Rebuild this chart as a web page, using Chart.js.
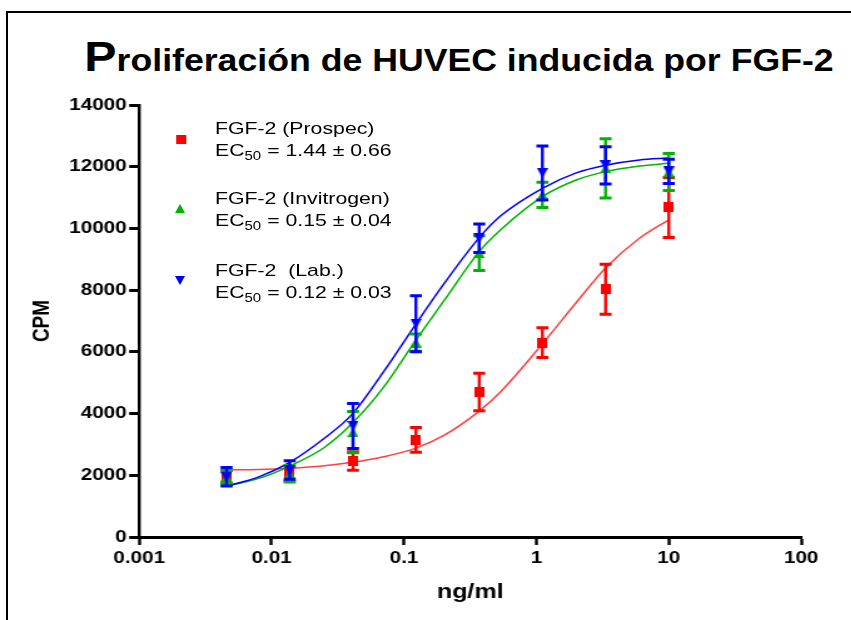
<!DOCTYPE html>
<html>
<head>
<meta charset="utf-8">
<script src="https://cdn.jsdelivr.net/npm/chart.js@4.4.0/dist/chart.umd.min.js"></script>
<style>
html, body { margin: 0; padding: 0; background: #fff; }
body { width: 851px; height: 620px; overflow: hidden; position: relative; font-family: "Liberation Sans", Arial, sans-serif; color: #000; }
#frame { position: absolute; left: 6px; top: 11px; width: 860px; height: 640px; border-top: 2px solid #000; border-left: 2px solid #000; }
/* the original picture is stretched sideways, so the chart is drawn narrow and widened */
#stage { position: absolute; left: 0; top: 0; width: 680.8px; height: 620px; transform: scaleX(1.25); transform-origin: 0 0; }
#wrap { position: absolute; left: 0; top: 0; width: 680.8px; height: 620px; }
#title { position: absolute; left: 459px; top: 35.5px; transform: translateX(-50%) scaleX(1.15); white-space: nowrap; font-weight: bold; font-size: 31px; line-height: 1; }
#title .big { font-size: 42px; }
.leg { position: absolute; left: 172px; font-size: 17px; line-height: 22px; white-space: nowrap; }
.leg sub { font-size: 12px; line-height: 0; vertical-align: -4px; }
.mk { position: absolute; width: 0; height: 0; }
</style>
</head>
<body>
<div id="frame"></div>
<div id="title"><span class="big">P</span>roliferación de HUVEC inducida por FGF-2</div>
<div id="stage">
  <div id="wrap"><canvas id="grafica"></canvas></div>

  <div class="mk" style="left:141.2px;top:134.5px;width:7.4px;height:9.4px;background:#ff0000;"></div>
  <div class="leg" style="top:118px;">FGF-2 (Prospec)<br>EC<sub>50</sub> = 1.44 ± 0.66</div>

  <div class="mk" style="left:140.4px;top:203.5px;border-left:4.4px solid transparent;border-right:4.4px solid transparent;border-bottom:9px solid #00b400;"></div>
  <div class="leg" style="top:188px;">FGF-2 (Invitrogen)<br>EC<sub>50</sub> = 0.15 ± 0.04</div>

  <div class="mk" style="left:140.4px;top:275.5px;border-left:4.4px solid transparent;border-right:4.4px solid transparent;border-top:9px solid #0000ff;"></div>
  <div class="leg" style="top:260px;">FGF-2&nbsp; (Lab.)<br>EC<sub>50</sub> = 0.12 ± 0.03</div>
</div>

<script>
// concentraciones (ng/ml) y medias +/- error de cada preparación
const concentraciones = [0.00457, 0.0137, 0.0412, 0.123, 0.370, 1.11, 3.33, 10];

const prospecMedia = [1950, 2040, 2460, 3150, 4700, 6300, 8030, 10680];
const prospecError = [200, 230, 300, 400, 610, 480, 810, 970];

const invitrogenMedia = [1950, 2050, 3400, 6300, 9200, 11090, 11950, 11830];
const invitrogenError = [220, 270, 670, 280, 565, 410, 960, 600];

const labMedia = [1950, 2170, 3600, 6910, 9680, 11800, 12045, 11850];
const labError = [300, 300, 730, 910, 460, 875, 605, 390];

// curvas de ajuste
const curvaX = [0.00457, 0.008, 0.0137, 0.025, 0.041, 0.07, 0.123, 0.2, 0.37, 0.535, 1.11, 2, 3.33, 6, 10];
const curvaProspec = [2170, 2190, 2230, 2310, 2420, 2600, 2880, 3290, 4080, 4700, 6260, 7600, 8720, 9680, 10280];
const curvaInvitrogen = [1650, 1900, 2300, 2900, 3700, 4850, 6380, 7650, 9250, 9950, 11030, 11570, 11840, 12020, 12110];
const curvaLab = [1650, 1950, 2420, 3200, 4000, 5350, 6900, 8200, 9700, 10400, 11300, 11800, 12050, 12220, 12280];

const ticksX = [0.001, 0.01, 0.1, 1, 10, 100];
const etiquetasX = ['0.001', '0.01', '0.1', '1', '10', '100'];
const ticksY = [0, 2000, 4000, 6000, 8000, 10000, 12000, 14000];
const etiquetasY = ['0', '2000', '4000', '6000', '8000', '10000', '12000', '14000'];

const ROJO = '#ff0000';
const VERDE = '#00b400';
const AZUL = '#0000ff';
const fuente = '"Liberation Sans", Arial, sans-serif';

function marcador(tipo, color) {
    const c = document.createElement('canvas');
    const g = c.getContext('2d');
    if (tipo === 'cuadro') {
        c.width = 8; c.height = 10;
        g.fillStyle = color;
        g.fillRect(0, 0, 8, 10);
    } else {
        c.width = 9; c.height = 10;
        g.fillStyle = color;
        g.beginPath();
        if (tipo === 'arriba') {
            g.moveTo(4.5, 0); g.lineTo(9, 10); g.lineTo(0, 10);
        } else {
            g.moveTo(0, 0); g.lineTo(9, 0); g.lineTo(4.5, 10);
        }
        g.closePath();
        g.fill();
    }
    return c;
}

const puntos = (ys) => concentraciones.map((x, i) => ({ x: x, y: ys[i] }));
const curva = (ys) => curvaX.map((x, i) => ({ x: x, y: ys[i] }));

const barrasError = {
    id: 'barrasError',
    beforeDatasetDraw(chart, args) {
        const ds = chart.data.datasets[args.index];
        if (!ds.errores) return;
        const ctx = chart.ctx;
        const escalaY = chart.scales.y;
        ctx.save();
        ctx.strokeStyle = ds.backgroundColor;
        args.meta.data.forEach((p, i) => {
            const v = ds.data[i].y;
            const e = ds.errores[i];
            const arriba = escalaY.getPixelForValue(v + e);
            const abajo = escalaY.getPixelForValue(v - e);
            ctx.lineWidth = 2.4;
            ctx.beginPath();
            ctx.moveTo(p.x, arriba);
            ctx.lineTo(p.x, abajo);
            ctx.stroke();
            ctx.lineWidth = 3;
            ctx.beginPath();
            ctx.moveTo(p.x - 4.8, arriba); ctx.lineTo(p.x + 4.8, arriba);
            ctx.moveTo(p.x - 4.8, abajo); ctx.lineTo(p.x + 4.8, abajo);
            ctx.stroke();
        });
        ctx.restore();
    }
};

const ctx = document.getElementById('grafica').getContext('2d');

new Chart(ctx, {
    type: 'line',
    data: {
        datasets: [
            { label: 'FGF-2 (Lab.)', data: puntos(labMedia), errores: labError, showLine: false,
              backgroundColor: AZUL, borderColor: AZUL, pointStyle: marcador('abajo', AZUL), pointRadius: 5 },
            { label: 'FGF-2 (Invitrogen)', data: puntos(invitrogenMedia), errores: invitrogenError, showLine: false,
              backgroundColor: VERDE, borderColor: VERDE, pointStyle: marcador('arriba', VERDE), pointRadius: 5 },
            { label: 'FGF-2 (Prospec)', data: puntos(prospecMedia), errores: prospecError, showLine: false,
              backgroundColor: ROJO, borderColor: ROJO, pointStyle: marcador('cuadro', ROJO), pointRadius: 5 },
            { label: 'ajuste Lab.', data: curva(curvaLab), borderColor: AZUL, borderWidth: 1.5,
              pointRadius: 0, cubicInterpolationMode: 'monotone', fill: false },
            { label: 'ajuste Invitrogen', data: curva(curvaInvitrogen), borderColor: VERDE, borderWidth: 1.5,
              pointRadius: 0, cubicInterpolationMode: 'monotone', fill: false },
            { label: 'ajuste Prospec', data: curva(curvaProspec), borderColor: '#ff4040', borderWidth: 1.5,
              pointRadius: 0, cubicInterpolationMode: 'monotone', fill: false }
        ]
    },
    options: {
        responsive: true,
        maintainAspectRatio: false,
        animation: false,
        layout: { padding: { left: 0, right: 40.8, top: 105, bottom: 0 } },
        plugins: {
            legend: { display: false },
            tooltip: { enabled: false },
            title: { display: false }
        },
        scales: {
            x: {
                type: 'logarithmic',
                min: 0.001,
                max: 100,
                afterBuildTicks: (s) => { s.ticks = ticksX.map(v => ({ value: v })); },
                afterFit: (s) => { s.height = 83; },
                ticks: {
                    callback: (v, i) => etiquetasX[i],
                    font: { family: fuente, size: 16.5, weight: 'bold' },
                    color: '#000', padding: 4, maxRotation: 0, autoSkip: false
                },
                grid: { drawOnChartArea: false, drawTicks: true, tickLength: 8, tickColor: '#000', tickWidth: 2.4 },
                border: { display: true, color: '#000', width: 3 },
                title: {
                    display: true, text: 'ng/ml', color: '#000',
                    font: { family: fuente, size: 20, weight: 'bold' },
                    padding: { top: 0, bottom: 16 }
                }
            },
            y: {
                min: 0,
                max: 14000,
                afterBuildTicks: (s) => { s.ticks = ticksY.map(v => ({ value: v })); },
                afterFit: (s) => { s.width = 111.2; },
                ticks: {
                    callback: (v, i) => etiquetasY[i],
                    font: { family: fuente, size: 16.5, weight: 'bold' },
                    color: '#000', padding: 2
                },
                grid: { drawOnChartArea: false, drawTicks: true, tickLength: 8, tickColor: '#000', tickWidth: 3 },
                border: { display: true, color: '#000', width: 2.4 },
                title: {
                    display: true, text: 'CPM', color: '#000',
                    font: { family: fuente, size: 19, weight: 'bold' },
                    padding: { top: 22.2, bottom: 0 }
                }
            }
        }
    },
    plugins: [barrasError]
});
</script>
</body>
</html>
